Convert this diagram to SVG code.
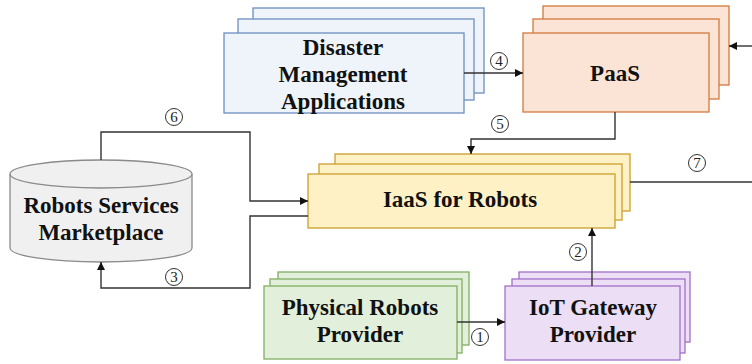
<svg xmlns="http://www.w3.org/2000/svg" width="752" height="364" viewBox="0 0 752 364">
  <defs>
    <marker id="arrow" viewBox="0 0 10 10" refX="10" refY="5" markerWidth="8" markerHeight="8" markerUnits="userSpaceOnUse" orient="auto">
      <path d="M0,0 L10,5 L0,10 z" fill="#111"/>
    </marker>
  </defs>
  <style>
    .lbl { font-family: "Liberation Serif", "Times New Roman", serif; font-weight: bold; font-size: 23px; fill: #111; text-anchor: middle; }
    .num { font-family: "Liberation Serif", "Times New Roman", serif; font-size: 15px; fill: #222; text-anchor: middle; }
    .numc { fill: #fff; stroke: #333; stroke-width: 1; }
    .blue { fill: #eff4fa; stroke: #6c8ebf; stroke-width: 1.3; }
    .orange { fill: #fbe4d5; stroke: #d27a3e; stroke-width: 1.3; }
    .yellow { fill: #fff1c6; stroke: #cc9f2a; stroke-width: 1.3; }
    .green { fill: #e2efda; stroke: #7fae61; stroke-width: 1.3; }
    .purple { fill: #ebdef5; stroke: #a26fc9; stroke-width: 1.3; }
    .cyl { fill: #f0f0f0; stroke: #8a8a8a; stroke-width: 1.3; }
    .edge { fill: none; stroke: #333; stroke-width: 1.4; }
  </style>

  <g id="disaster-apps">
    <rect class="blue" x="253" y="8" width="231" height="85"/>
    <rect class="blue" x="238" y="19" width="236" height="81"/>
    <rect class="blue" x="224" y="33" width="240" height="80"/>
    <text class="lbl" x="343" y="55">Disaster</text>
    <text class="lbl" x="343" y="82">Management</text>
    <text class="lbl" x="343" y="109">Applications</text>
  </g>

  <g id="paas">
    <rect class="orange" x="543" y="6" width="186" height="79"/>
    <rect class="orange" x="533" y="19" width="186" height="80"/>
    <rect class="orange" x="523" y="33" width="186" height="79"/>
    <text class="lbl" x="615" y="81">PaaS</text>
  </g>

  <g id="iaas">
    <rect class="yellow" x="335" y="154" width="295" height="57"/>
    <rect class="yellow" x="319" y="164" width="303" height="56"/>
    <rect class="yellow" x="308" y="174" width="307" height="54"/>
    <text class="lbl" x="460" y="207">IaaS for Robots</text>
  </g>

  <g id="marketplace">
    <path class="cyl" d="M10,174 L10,248 A91,14 0 0 0 192,248 L192,174 A91,14 0 0 0 10,174 z"/>
    <path class="cyl" d="M10,174 A91,14 0 0 0 192,174"/>
    <text class="lbl" x="101" y="213">Robots Services</text>
    <text class="lbl" x="101" y="240">Marketplace</text>
  </g>

  <g id="physical-robots">
    <rect class="green" x="278" y="272" width="191" height="73"/>
    <rect class="green" x="270" y="279" width="192" height="74"/>
    <rect class="green" x="264" y="286" width="193" height="73"/>
    <text class="lbl" x="360" y="315">Physical Robots</text>
    <text class="lbl" x="360" y="342">Provider</text>
  </g>

  <g id="iot-gateway">
    <rect class="purple" x="519" y="272" width="171" height="70"/>
    <rect class="purple" x="512" y="279" width="173" height="74"/>
    <rect class="purple" x="505" y="286" width="175" height="74"/>
    <text class="lbl" x="593" y="315">IoT Gateway</text>
    <text class="lbl" x="593" y="342">Provider</text>
  </g>

  <g id="connectors">
    <!-- 1: physical robots to IoT gateway -->
    <path class="edge" d="M457,322 L505,322" marker-end="url(#arrow)"/>
    <!-- 2: IoT gateway up to IaaS -->
    <path class="edge" d="M592,286 L592,228" marker-end="url(#arrow)"/>
    <!-- 3: IaaS back to marketplace -->
    <path class="edge" d="M308,216 L250,216 L250,288 L101,288 L101,262" marker-end="url(#arrow)"/>
    <!-- 4: applications to PaaS -->
    <path class="edge" d="M464,73 L523,73" marker-end="url(#arrow)"/>
    <!-- 5: PaaS down to IaaS -->
    <path class="edge" d="M615,112 L615,139 L471,139 L471,154" marker-end="url(#arrow)"/>
    <!-- 6: marketplace to IaaS -->
    <path class="edge" d="M101,160 L101,132 L250,132 L250,201 L308,201" marker-end="url(#arrow)"/>
    <!-- 7: IaaS out to the right, back into PaaS -->
    <path class="edge" d="M630,182 L752,182"/>
    <path class="edge" d="M752,46 L729,46" marker-end="url(#arrow)"/>

    <g id="step-labels">
      <circle class="numc" cx="480" cy="337" r="8.5"/><text class="num" x="480" y="342">1</text>
      <circle class="numc" cx="578" cy="252" r="8.5"/><text class="num" x="578" y="257">2</text>
      <circle class="numc" cx="174" cy="277" r="8.5"/><text class="num" x="174" y="282">3</text>
      <circle class="numc" cx="499" cy="61" r="8.5"/><text class="num" x="499" y="66">4</text>
      <circle class="numc" cx="500" cy="124" r="8.5"/><text class="num" x="500" y="129">5</text>
      <circle class="numc" cx="174" cy="117" r="8.5"/><text class="num" x="174" y="122">6</text>
      <circle class="numc" cx="697" cy="163" r="8.5"/><text class="num" x="697" y="168">7</text>
    </g>
  </g>
</svg>
